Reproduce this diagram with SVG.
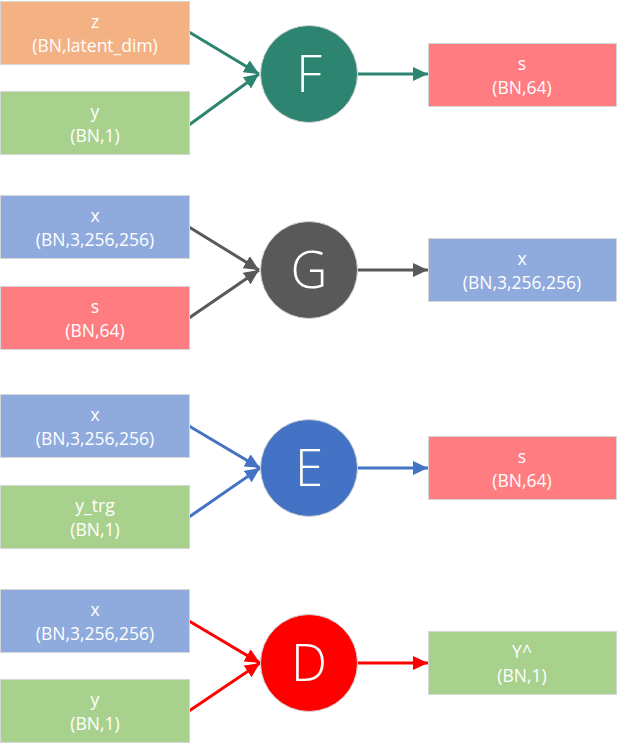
<svg xmlns="http://www.w3.org/2000/svg" width="618" height="746" viewBox="0 0 618 746">
<style>
.box{stroke:#D6D6D6;stroke-width:1}
.orange{fill:#F4B183}
.green{fill:#A9D18E}
.blue{fill:#8FAADC}
.pink{fill:#FF7C80}
.lbl{font-family:"Open Sans","Liberation Sans",sans-serif;font-size:17.5px;fill:#FFFFFF;text-anchor:middle}
.op{font-family:"Open Sans","Liberation Sans",sans-serif;font-weight:300;font-size:51px;fill:#FFFFFF;text-anchor:middle}
.circ{stroke:#D6D6D6;stroke-width:1}
.ln{fill:none;stroke-width:3}
</style>
<defs>
<marker id="aF" markerUnits="userSpaceOnUse" markerWidth="16" markerHeight="14" refX="15" refY="7" orient="auto"><path d="M0,0 L15,7 L0,14 z" fill="#2D8470"/></marker>
<marker id="aG" markerUnits="userSpaceOnUse" markerWidth="16" markerHeight="14" refX="15" refY="7" orient="auto"><path d="M0,0 L15,7 L0,14 z" fill="#595959"/></marker>
<marker id="aE" markerUnits="userSpaceOnUse" markerWidth="16" markerHeight="14" refX="15" refY="7" orient="auto"><path d="M0,0 L15,7 L0,14 z" fill="#4472C4"/></marker>
<marker id="aD" markerUnits="userSpaceOnUse" markerWidth="16" markerHeight="14" refX="15" refY="7" orient="auto"><path d="M0,0 L15,7 L0,14 z" fill="#FF0000"/></marker>
</defs>
<g id="connectors">
<line class="ln" stroke="#2D8470" x1="189" y1="32" x2="259" y2="74" marker-end="url(#aF)"/>
<line class="ln" stroke="#2D8470" x1="189" y1="125" x2="259" y2="74" marker-end="url(#aF)"/>
<line class="ln" stroke="#2D8470" x1="357" y1="74" x2="428" y2="74" marker-end="url(#aF)"/>
<line class="ln" stroke="#595959" x1="189" y1="227" x2="259" y2="270" marker-end="url(#aG)"/>
<line class="ln" stroke="#595959" x1="189" y1="318" x2="259" y2="270" marker-end="url(#aG)"/>
<line class="ln" stroke="#595959" x1="357" y1="270" x2="428" y2="270" marker-end="url(#aG)"/>
<line class="ln" stroke="#4472C4" x1="189" y1="426" x2="260" y2="468" marker-end="url(#aE)"/>
<line class="ln" stroke="#4472C4" x1="189" y1="517" x2="260" y2="468" marker-end="url(#aE)"/>
<line class="ln" stroke="#4472C4" x1="357" y1="468" x2="428" y2="468" marker-end="url(#aE)"/>
<line class="ln" stroke="#FF0000" x1="189" y1="621" x2="260" y2="663" marker-end="url(#aD)"/>
<line class="ln" stroke="#FF0000" x1="189" y1="711" x2="260" y2="663" marker-end="url(#aD)"/>
<line class="ln" stroke="#FF0000" x1="357" y1="663" x2="428" y2="663" marker-end="url(#aD)"/>
</g>
<g id="F_in_z"><rect class="box orange" x="0.5" y="1.5" width="189" height="63"/><text class="lbl" x="95" y="27.5">z</text><text class="lbl" x="95" y="51.5">(BN,latent_dim)</text></g>
<g id="F_in_y"><rect class="box green" x="0.5" y="91.5" width="189" height="63"/><text class="lbl" x="95" y="117.5">y</text><text class="lbl" x="95" y="141.5">(BN,1)</text></g>
<g id="F"><circle class="circ" cx="309" cy="74" r="48.5" fill="#2D8470"/><text class="op" x="309" y="92">F</text></g>
<g id="F_out_s"><rect class="box pink" x="428.5" y="43.5" width="188" height="63"/><text class="lbl" x="522" y="69.5">s</text><text class="lbl" x="522" y="93.5">(BN,64)</text></g>

<g id="G_in_x"><rect class="box blue" x="0.5" y="195.5" width="189" height="63"/><text class="lbl" x="95" y="221.5">x</text><text class="lbl" x="95" y="245.5">(BN,3,256,256)</text></g>
<g id="G_in_s"><rect class="box pink" x="0.5" y="286.5" width="189" height="63"/><text class="lbl" x="95" y="312.5">s</text><text class="lbl" x="95" y="336.5">(BN,64)</text></g>
<g id="G"><circle class="circ" cx="309" cy="270" r="48.5" fill="#595959"/><text class="op" x="309" y="288">G</text></g>
<g id="G_out_x"><rect class="box blue" x="428.5" y="238.5" width="188" height="63"/><text class="lbl" x="522" y="264.5">x</text><text class="lbl" x="522" y="288.5">(BN,3,256,256)</text></g>

<g id="E_in_x"><rect class="box blue" x="0.5" y="394.5" width="189" height="63"/><text class="lbl" x="95" y="420.5">x</text><text class="lbl" x="95" y="444.5">(BN,3,256,256)</text></g>
<g id="E_in_ytrg"><rect class="box green" x="0.5" y="485.5" width="189" height="63"/><text class="lbl" x="95" y="511.5">y_trg</text><text class="lbl" x="95" y="535.5">(BN,1)</text></g>
<g id="E"><circle class="circ" cx="309" cy="468" r="48.5" fill="#4472C4"/><text class="op" x="309" y="486">E</text></g>
<g id="E_out_s"><rect class="box pink" x="428.5" y="436.5" width="188" height="63"/><text class="lbl" x="522" y="462.5">s</text><text class="lbl" x="522" y="486.5">(BN,64)</text></g>

<g id="D_in_x"><rect class="box blue" x="0.5" y="589.5" width="189" height="63"/><text class="lbl" x="95" y="615.5">x</text><text class="lbl" x="95" y="639.5">(BN,3,256,256)</text></g>
<g id="D_in_y"><rect class="box green" x="0.5" y="679.5" width="189" height="63"/><text class="lbl" x="95" y="705.5">y</text><text class="lbl" x="95" y="729.5">(BN,1)</text></g>
<g id="D"><circle class="circ" cx="309" cy="663" r="48.5" fill="#FF0000"/><text class="op" x="309" y="681">D</text></g>
<g id="D_out_Y"><rect class="box green" x="428.5" y="631.5" width="188" height="63"/><text class="lbl" x="522" y="657.5">Y^</text><text class="lbl" x="522" y="681.5">(BN,1)</text></g>
</svg>
